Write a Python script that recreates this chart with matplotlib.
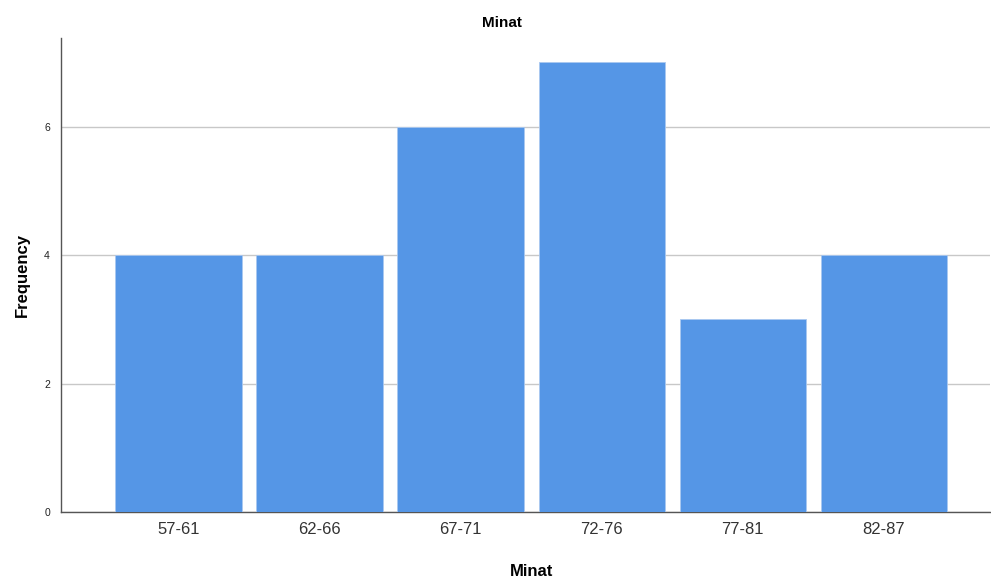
import matplotlib.pyplot as plt
import numpy as np

# Distribusi frekuensi Minat
categories = ['57-61', '62-66', '67-71', '72-76', '77-81', '82-87']
frequency = [4, 4, 6, 7, 3, 4]
y_ticks = [0, 2, 4, 6]

plt.rcParams['font.family'] = ['Liberation Sans', 'DejaVu Sans']

fig = plt.figure(figsize=(9.91, 5.83), dpi=100)
ax = fig.add_axes([0.0616, 0.1218, 0.9374, 0.8132])

x = np.arange(len(categories))
ax.bar(x, frequency, width=0.894, color='#5596E6', edgecolor='#A9C8F0', linewidth=0.6, zorder=3)

ax.set_xlim(-0.833, 5.755)
ax.set_ylim(0, 7.38)
ax.set_yticks(y_ticks)
ax.set_yticklabels([str(v) for v in y_ticks], fontsize=7.5, color='#222222')
ax.set_xticks(x)
ax.set_xticklabels(categories, fontsize=12, color='#333333')
ax.tick_params(axis='both', length=0)
ax.tick_params(axis='x', pad=7)
ax.tick_params(axis='y', pad=8)

ax.yaxis.grid(True, color='#C8C8C8', linewidth=1.0, zorder=0)
ax.set_axisbelow(True)

for side in ['top', 'right']:
    ax.spines[side].set_visible(False)
for side in ['left', 'bottom']:
    ax.spines[side].set_color('#555555')
    ax.spines[side].set_linewidth(1.0)

ax.set_title('Minat', fontsize=11, fontweight='bold', pad=8, x=0.475)
ax.set_xlabel('Minat', fontsize=12, fontweight='bold', labelpad=20, x=0.507)
ax.set_ylabel('Frequency', fontsize=12, fontweight='bold', labelpad=10)

plt.savefig('out.png', dpi=100)
plt.close()
